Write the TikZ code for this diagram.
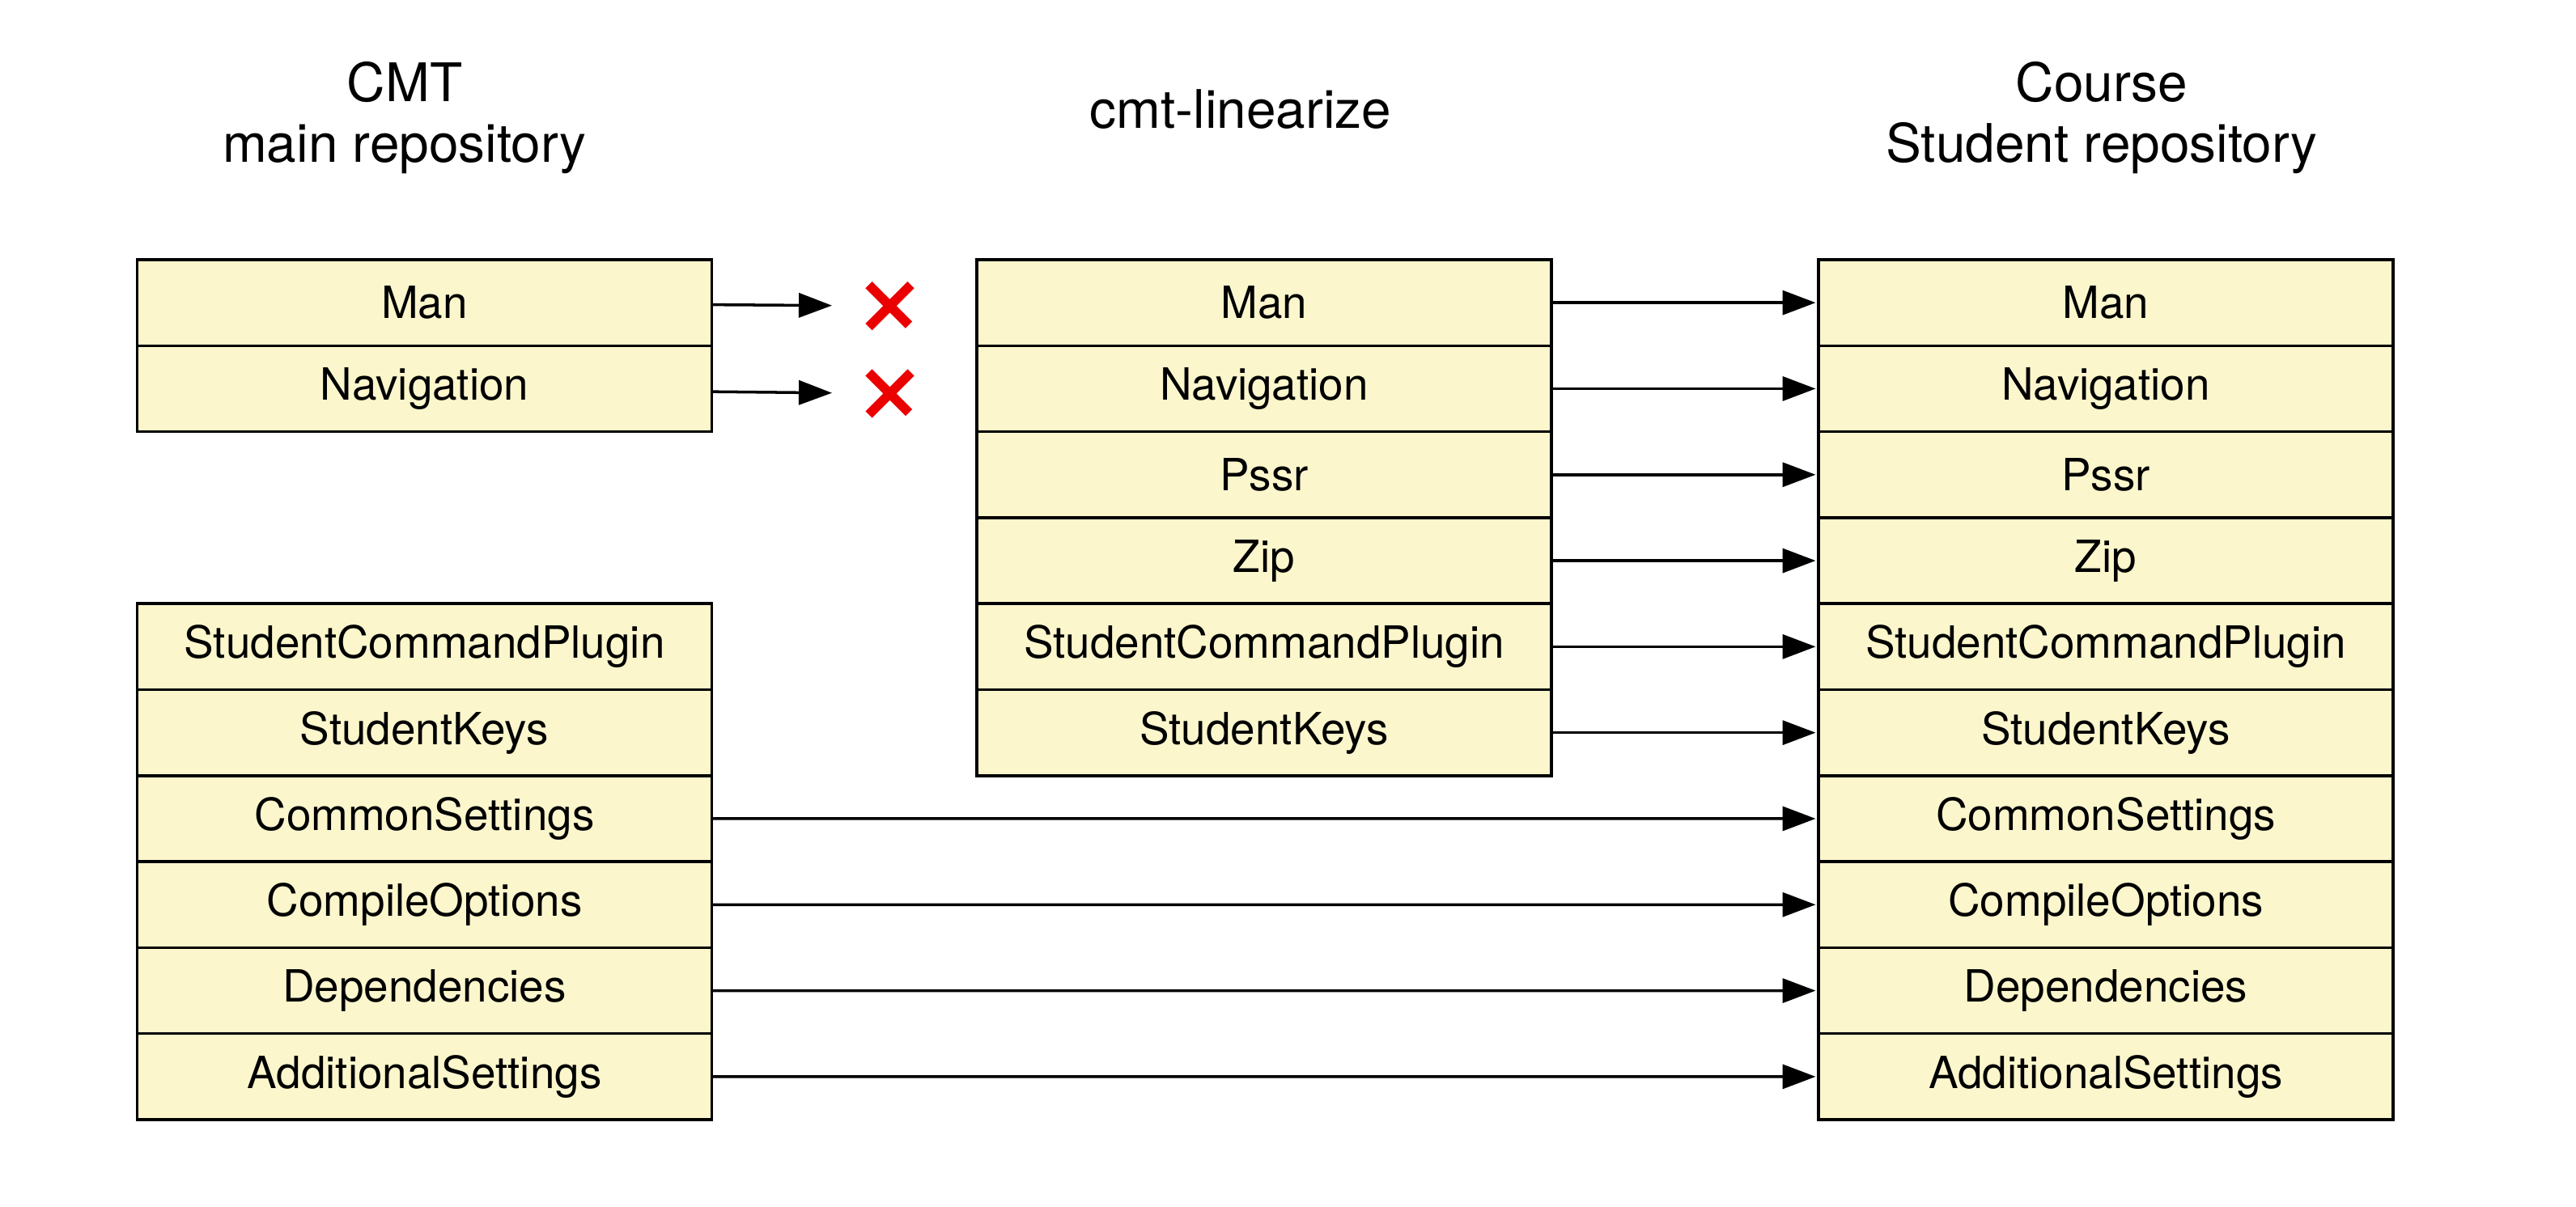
\documentclass[tikz,border=0pt]{standalone}
\usepackage{fontspec}
\setmainfont{TeX Gyre Heros}
\usetikzlibrary{positioning,arrows.meta,shapes.misc}
\definecolor{cellfill}{RGB}{251,246,204}
\definecolor{xred}{RGB}{235,0,0}

\begin{document}
\begin{tikzpicture}[->,
>={Triangle[length=4.1mm,width=3mm]},
shorten >=1pt,
line width=1pt,
entryy/.style={rectangle, minimum width=7.1cm, minimum height=1.063cm, inner sep=0pt, outer sep=0pt, text centered, draw=black, fill=cellfill, font=\fontsize{15.6}{18}\selectfont},
headd/.style={align=center, anchor=base, font=\fontsize{18.7}{21.3}\selectfont},
dropp/.style={cross out, draw=xred, line width=3.3pt, minimum size=5.2mm, inner sep=0pt, outer sep=0pt},
]
  \useasboundingbox (0,0) rectangle (31.83,-14.91);

  \node (cmtTitle) [headd] at (5.0,-2.0) {CMT\\main repository};
  \node (linTitle) [headd] at (15.33,-1.58) {cmt-linearize};
  \node (courseTitle) [headd] at (25.97,-2.0) {Course\\Student repository};

  % CMT main repository
  \node (manL) [entryy, anchor=north] at (5.245,-3.21) {Man};
  \node (navL) [entryy, below=0pt of manL] {Navigation};
  \node (studcmdL) [entryy, below=2.126cm of navL] {StudentCommandPlugin};
  \node (studkeysL) [entryy, below=0pt of studcmdL] {StudentKeys};
  \node (commonL) [entryy, below=0pt of studkeysL] {CommonSettings};
  \node (compileL) [entryy, below=0pt of commonL] {CompileOptions};
  \node (depsL) [entryy, below=0pt of compileL] {Dependencies};
  \node (addL) [entryy, below=0pt of depsL] {AdditionalSettings};

  \node (xman) [dropp, right=1.94cm of manL, yshift=-0.04cm] {};
  \node (xnav) [dropp, right=1.94cm of navL, yshift=-0.06cm] {};

  % cmt-linearize
  \node (manM) [entryy, right=3.275cm of manL] {Man};
  \node (navM) [entryy, below=0pt of manM] {Navigation};
  \node (pssrM) [entryy, below=0pt of navM] {Pssr};
  \node (zipM) [entryy, below=0pt of pssrM] {Zip};
  \node (studcmdM) [entryy, below=0pt of zipM] {StudentCommandPlugin};
  \node (studkeysM) [entryy, below=0pt of studcmdM] {StudentKeys};

  % Course Student repository
  \node (manR) [entryy, right=3.3cm of manM] {Man};
  \node (navR) [entryy, below=0pt of manR] {Navigation};
  \node (pssrR) [entryy, below=0pt of navR] {Pssr};
  \node (zipR) [entryy, below=0pt of pssrR] {Zip};
  \node (studcmdR) [entryy, below=0pt of zipR] {StudentCommandPlugin};
  \node (studkeysR) [entryy, below=0pt of studcmdR] {StudentKeys};
  \node (commonR) [entryy, below=0pt of studkeysR] {CommonSettings};
  \node (compileR) [entryy, below=0pt of commonR] {CompileOptions};
  \node (depsR) [entryy, below=0pt of compileR] {Dependencies};
  \node (addR) [entryy, below=0pt of depsR] {AdditionalSettings};

  \path
    (manL) edge[shorten >=4.55mm] (xman)
    (navL) edge[shorten >=4.55mm] (xnav)
    (manM) edge (manR)
    (navM) edge (navR)
    (pssrM) edge (pssrR)
    (zipM) edge (zipR)
    (studcmdM) edge (studcmdR)
    (studkeysM) edge (studkeysR)
    (commonL) edge (commonR)
    (compileL) edge (compileR)
    (depsL) edge (depsR)
    (addL) edge (addR)
    ;
\end{tikzpicture}
\end{document}
